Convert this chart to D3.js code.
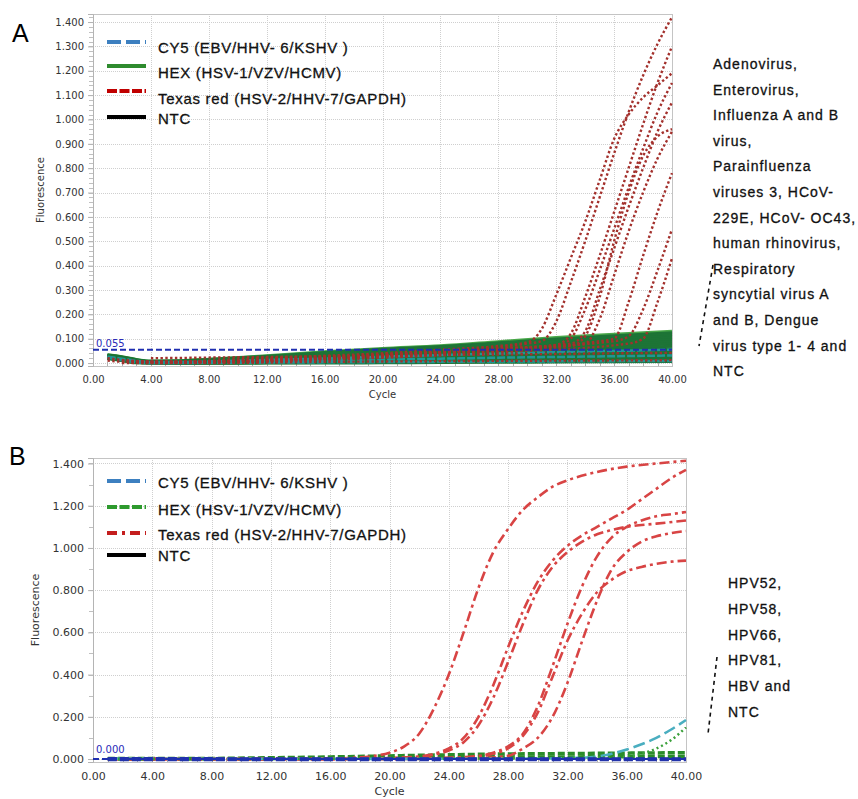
<!DOCTYPE html>
<html>
<head>
<meta charset="utf-8">
<script src="https://cdn.jsdelivr.net/npm/d3@7"></script>
<style>
  body { margin: 0; background: #fff; }
  svg { display: block; }
</style>
</head>
<body>
<div id="chart"></div>
<script>
// ===============================================================
// Data
// ===============================================================
const cycle_ticks = [0, 4, 8, 12, 16, 20, 24, 28, 32, 36, 40];
const fluor_ticks_a = [0, 0.1, 0.2, 0.3, 0.4, 0.5, 0.6, 0.7, 0.8, 0.9, 1.0, 1.1, 1.2, 1.3, 1.4];
const fluor_ticks_b = [0, 0.2, 0.4, 0.6, 0.8, 1.0, 1.2, 1.4];
const legend_labels = ['CY5 (EBV/HHV- 6/KSHV )', 'HEX (HSV-1/VZV/HCMV)', 'Texas red (HSV-2/HHV-7/GAPDH)', 'NTC'];
const notes_a = ['Adenovirus,', 'Enterovirus,', 'Influenza A and B', 'virus,', 'Parainfluenza',
  'viruses 3, HCoV-', '229E, HCoV- OC43,', 'human rhinovirus,', 'Respiratory',
  'syncytial virus A', 'and B, Dengue', 'virus type 1- 4 and', 'NTC'];
const notes_b = ['HPV52,', 'HPV58,', 'HPV66,', 'HPV81,', 'HBV and', 'NTC'];
const threshold_a = 0.055;
const threshold_b = 0.000;

// Panel A, HEX and CY5 traces sampled at these cycles
const cycles_a = [1, 2, 3, 4, 6, 8, 12, 16, 20, 24, 28, 32, 36, 40];
const hex_a = [
  [0.034, 0.026, 0.015, 0.008, 0.010, 0.016, 0.030, 0.046, 0.060, 0.071, 0.088, 0.105, 0.118, 0.131],
  [0.033, 0.025, 0.014, 0.007, 0.009, 0.015, 0.028, 0.043, 0.057, 0.068, 0.083, 0.099, 0.112, 0.124],
  [0.032, 0.024, 0.013, 0.007, 0.008, 0.013, 0.026, 0.040, 0.053, 0.064, 0.078, 0.093, 0.106, 0.117],
  [0.031, 0.022, 0.012, 0.006, 0.007, 0.012, 0.024, 0.037, 0.049, 0.060, 0.073, 0.087, 0.099, 0.110],
  [0.030, 0.021, 0.011, 0.005, 0.006, 0.011, 0.021, 0.033, 0.045, 0.055, 0.067, 0.080, 0.092, 0.103],
  [0.029, 0.020, 0.010, 0.005, 0.005, 0.009, 0.019, 0.030, 0.041, 0.051, 0.062, 0.074, 0.085, 0.095],
  [0.028, 0.019, 0.009, 0.004, 0.005, 0.008, 0.017, 0.027, 0.037, 0.046, 0.056, 0.067, 0.077, 0.087],
  [0.027, 0.018, 0.008, 0.004, 0.004, 0.007, 0.015, 0.024, 0.033, 0.041, 0.050, 0.060, 0.069, 0.078],
  [0.026, 0.017, 0.007, 0.003, 0.003, 0.006, 0.013, 0.020, 0.028, 0.036, 0.044, 0.053, 0.061, 0.069],
  [0.025, 0.016, 0.006, 0.003, 0.003, 0.005, 0.011, 0.017, 0.024, 0.031, 0.038, 0.045, 0.052, 0.059],
  [0.024, 0.015, 0.006, 0.002, 0.002, 0.004, 0.009, 0.014, 0.020, 0.026, 0.032, 0.038, 0.044, 0.050],
  [0.023, 0.014, 0.005, 0.002, 0.002, 0.003, 0.007, 0.011, 0.016, 0.021, 0.026, 0.031, 0.036, 0.041],
  [0.022, 0.013, 0.004, 0.001, 0.001, 0.002, 0.005, 0.008, 0.012, 0.016, 0.020, 0.024, 0.028, 0.032],
  [0.021, 0.012, 0.003, 0.001, 0.000, 0.001, 0.003, 0.005, 0.008, 0.011, 0.014, 0.017, 0.020, 0.023],
  [0.020, 0.011, 0.002, 0.000, 0.000, 0.000, 0.001, 0.002, 0.004, 0.006, 0.008, 0.010, 0.012, 0.014],
  [0.019, 0.010, 0.001, 0.000, -0.001, -0.001, 0.000, 0.000, 0.001, 0.002, 0.003, 0.004, 0.005, 0.006]
];
const cy5_a = [
  [0.024, 0.015, 0.006, 0.002, 0.002, 0.003, 0.006, 0.010, 0.014, 0.018, 0.022, 0.025, 0.028, 0.031],
  [0.022, 0.012, 0.003, 0.000, 0.000, 0.001, 0.002, 0.003, 0.004, 0.005, 0.006, 0.007, 0.008, 0.009],
  [0.026, 0.018, 0.009, 0.004, 0.004, 0.007, 0.013, 0.019, 0.026, 0.033, 0.039, 0.045, 0.050, 0.055]
];
// Panel A, Texas red traces as [cycle, fluorescence]
const texas_red_a = [
  [[1, 0.020], [4, 0.005], [8, 0.010], [12, 0.020], [16, 0.030], [20, 0.040], [24, 0.055], [28, 0.070], [30, 0.085], [31, 0.14], [32, 0.28], [33, 0.43], [34, 0.58], [35, 0.75], [36, 0.92], [37, 1.02], [38, 1.09], [39, 1.14], [40, 1.19]],
  [[1, 0.010], [4, 0.000], [8, 0.005], [12, 0.012], [16, 0.020], [20, 0.030], [24, 0.045], [28, 0.065], [30, 0.080], [31, 0.09], [32, 0.17], [33, 0.33], [34, 0.50], [35, 0.68], [36, 0.86], [37, 1.03], [38, 1.18], [39, 1.31], [40, 1.42]],
  [[2, 0.012], [6, 0.003], [12, 0.015], [20, 0.035], [28, 0.060], [32, 0.075], [33, 0.12], [34, 0.27], [35, 0.44], [36, 0.62], [37, 0.80], [38, 0.98], [39, 1.15], [40, 1.30]],
  [[2, 0.008], [8, 0.004], [16, 0.022], [24, 0.048], [32, 0.070], [33, 0.10], [34, 0.22], [35, 0.38], [36, 0.55], [37, 0.72], [38, 0.88], [39, 1.03], [40, 1.15]],
  [[3, 0.006], [10, 0.008], [18, 0.028], [26, 0.052], [33, 0.080], [34, 0.13], [35, 0.30], [36, 0.47], [37, 0.64], [38, 0.80], [39, 0.95], [40, 1.07]],
  [[3, 0.004], [10, 0.006], [18, 0.024], [26, 0.046], [33, 0.070], [34, 0.11], [35, 0.27], [36, 0.50], [37, 0.70], [38, 0.85], [39, 0.93], [40, 0.96]],
  [[4, 0.003], [12, 0.010], [20, 0.030], [28, 0.055], [34, 0.080], [35, 0.18], [36, 0.36], [37, 0.54], [38, 0.70], [39, 0.84], [40, 0.95]],
  [[4, 0.002], [12, 0.008], [20, 0.026], [28, 0.050], [35, 0.090], [36, 0.10], [37, 0.25], [38, 0.44], [39, 0.62], [40, 0.78]],
  [[4, 0.004], [12, 0.012], [20, 0.032], [28, 0.058], [36, 0.090], [37, 0.11], [38, 0.22], [39, 0.38], [40, 0.55]],
  [[4, 0.001], [12, 0.006], [20, 0.022], [28, 0.044], [37, 0.080], [38, 0.10], [39, 0.25], [40, 0.43]],
  [[2, 0.000], [8, 0.000], [16, 0.005], [24, 0.008], [32, 0.010], [40, 0.012]],
  [[4, 0.020], [12, 0.025], [20, 0.030], [28, 0.035], [36, 0.040], [40, 0.042]]
];

// Panel B traces as [cycle, fluorescence]
const texas_red_b = [
  [[1, 0.000], [10, 0.000], [16, 0.003], [18, 0.008], [19, 0.015], [20, 0.030], [21, 0.060], [22, 0.12], [23, 0.24], [24, 0.40], [25, 0.60], [26, 0.81], [27, 0.98], [28, 1.09], [29, 1.18], [30, 1.24], [31, 1.29], [32, 1.32], [34, 1.36], [36, 1.385], [38, 1.40], [40, 1.413]],
  [[1, 0.000], [14, 0.000], [20, 0.005], [22, 0.012], [23, 0.025], [24, 0.050], [25, 0.10], [26, 0.20], [27, 0.35], [28, 0.53], [29, 0.70], [30, 0.84], [31, 0.94], [32, 1.01], [33, 1.06], [34, 1.10], [35, 1.14], [36, 1.18], [37, 1.23], [38, 1.28], [39, 1.33], [40, 1.37]],
  [[1, 0.000], [14, 0.000], [20, 0.004], [22, 0.010], [23, 0.020], [24, 0.040], [25, 0.080], [26, 0.16], [27, 0.29], [28, 0.46], [29, 0.64], [30, 0.80], [31, 0.91], [32, 0.98], [33, 1.03], [34, 1.065], [35, 1.085], [36, 1.10], [38, 1.115], [40, 1.13]],
  [[1, 0.000], [18, 0.000], [24, 0.006], [26, 0.015], [27, 0.030], [28, 0.060], [29, 0.12], [30, 0.25], [31, 0.44], [32, 0.64], [33, 0.82], [34, 0.96], [35, 1.05], [36, 1.10], [37, 1.13], [38, 1.15], [39, 1.16], [40, 1.17]],
  [[1, 0.000], [18, 0.000], [24, 0.005], [26, 0.012], [27, 0.025], [28, 0.050], [29, 0.11], [30, 0.22], [31, 0.39], [32, 0.56], [33, 0.69], [34, 0.79], [35, 0.85], [36, 0.89], [37, 0.91], [38, 0.925], [39, 0.935], [40, 0.94]],
  [[1, 0.000], [20, 0.000], [26, 0.005], [28, 0.015], [29, 0.050], [30, 0.10], [31, 0.20], [32, 0.36], [33, 0.56], [34, 0.75], [35, 0.90], [36, 0.98], [37, 1.03], [38, 1.055], [39, 1.07], [40, 1.08]]
];
const hex_b = [
  [[1, 0.002], [8, 0.003], [12, 0.006], [16, 0.010], [20, 0.015], [24, 0.020], [28, 0.024], [32, 0.026], [36, 0.028], [40, 0.030]],
  [[1, 0.000], [12, 0.002], [20, 0.005], [28, 0.009], [36, 0.011], [40, 0.012]]
];
const hex_b_late = [
  [[1, 0.000], [30, 0.003], [35, 0.008], [36, 0.012], [37, 0.025], [38, 0.050], [39, 0.090], [40, 0.150]]
];
const cy5_b = [
  [[1, 0.002], [20, 0.001], [30, 0.002], [33, 0.006], [34, 0.012], [35, 0.025], [36, 0.045], [37, 0.070], [38, 0.100], [39, 0.140], [40, 0.185]]
];
const cy5_b_flat = [
  [[1, 0.001], [40, 0.000]],
  [[1, -0.002], [40, -0.002]]
];

// ===============================================================
// Setup
// ===============================================================
const svg = d3.select('#chart').append('svg')
  .attr('width', 858)
  .attr('height', 799)
  .style('font-family', '"Liberation Sans", Arial, sans-serif');

const to_rows = (vals) => vals.map((v, i) => [cycles_a[i], v]);

const panel_a = {
  left: 93, right: 672, top: 14, bottom: 366,
  y_domain: [-0.012, 1.433], y_ticks: fluor_ticks_a, y_minor: 0.02,
  tick_font: 10, x_pad: 10, fluor_x: 40, cycle_y: 398,
  letter: 'A', letter_x: 12, letter_y: 42,
  legend_line_y: [42, 66, 91, 117], legend_text_y: [53, 78, 104, 124],
  legend_styles: [
    {color: '#3d80c0', dash: '14,5'},
    {color: '#2e8b2e', dash: null},
    {color: '#c00000', dash: '10,2.5'},
    {color: '#000', dash: null}
  ],
  threshold: threshold_a, threshold_label_y: 347,
  notes: notes_a, notes_x: 713, notes_y: 69, notes_step: 25.6,
  bracket: [[713, 265], [699, 346]],
  series: [
    {rows: hex_a.map(to_rows), color: (d, i) => i === 0 ? '#4aa84a' : '#1d7436', width: 3, dash: null},
    {rows: cy5_a.map(to_rows), color: () => '#1f9595', width: 2.5, dash: '8,2'},
    {rows: texas_red_a, color: () => '#a3302c', width: 2.4, dash: '2.4,2.4'}
  ]
};

const panel_b = {
  left: 93, right: 686, top: 458, bottom: 762,
  y_domain: [-0.014, 1.426], y_ticks: fluor_ticks_b, y_minor: 0.1,
  tick_font: 11, x_pad: 10, fluor_x: 35, cycle_y: 795,
  letter: 'B', letter_x: 9, letter_y: 465,
  legend_line_y: [481, 507, 533, 555], legend_text_y: [488, 515, 540, 561],
  legend_styles: [
    {color: '#3d80c0', dash: '14,5'},
    {color: '#2e9a2e', dash: '10,2.5'},
    {color: '#c41e1e', dash: '10,5,3,5'},
    {color: '#000', dash: null}
  ],
  threshold: threshold_b, threshold_label_y: 753,
  notes: notes_b, notes_x: 728, notes_y: 588, notes_step: 25.8,
  bracket: [[717, 657], [708, 734]],
  series: [
    {rows: hex_b, color: () => '#2a8c2a', width: 3.5, dash: '7,3'},
    {rows: texas_red_b, color: () => '#d84444', width: 2.6, dash: '10,4,3,4'},
    {rows: cy5_b, color: () => '#4aaec0', width: 2.6, dash: '12,5'},
    {rows: hex_b_late, color: () => '#3aa03a', width: 2.5, dash: '2,3'},
    {rows: cy5_b_flat, color: () => '#2233aa', width: 3.5, dash: '9,3'}
  ]
};

draw_panel(panel_a);
draw_panel(panel_b);

// ===============================================================
// Drawing
// ===============================================================
function draw_panel(p) {
  const x = d3.scaleLinear().domain([0, 40]).range([p.left, p.right]);
  const y = d3.scaleLinear().domain(p.y_domain).range([p.bottom, p.top]);
  const g = svg.append('g');

  // grid
  const grid = g.append('g')
    .attr('stroke', '#cfcfcf')
    .attr('stroke-dasharray', '1,1');
  grid.selectAll('line.h').data(p.y_ticks).join('line')
    .attr('class', 'h')
    .attr('x1', p.left).attr('x2', p.right)
    .attr('y1', d => Math.round(y(d)) + 0.5).attr('y2', d => Math.round(y(d)) + 0.5);
  grid.selectAll('line.v').data(cycle_ticks.slice(1)).join('line')
    .attr('class', 'v')
    .attr('y1', p.top).attr('y2', p.bottom)
    .attr('x1', d => Math.round(x(d)) + 0.5).attr('x2', d => Math.round(x(d)) + 0.5);

  g.append('rect')
    .attr('x', p.left + 0.5).attr('y', p.top + 0.5)
    .attr('width', p.right - p.left).attr('height', p.bottom - p.top)
    .attr('fill', 'none').attr('stroke', '#c4c4c4');

  // y axis
  const minor = d3.range(0, p.y_domain[1], p.y_minor);
  g.append('g').selectAll('line').data(minor).join('line')
    .attr('x1', p.left - 4).attr('x2', p.left)
    .attr('y1', d => Math.round(y(d)) + 0.5).attr('y2', d => Math.round(y(d)) + 0.5)
    .attr('stroke', '#c0c0c0');

  const y_axis = g.append('g')
    .attr('transform', `translate(${p.left},0)`)
    .call(d3.axisLeft(y).tickValues(p.y_ticks).tickFormat(d3.format('.3f')).tickSize(5).tickPadding(4));
  y_axis.select('.domain').attr('stroke', '#b4b4b4');
  y_axis.selectAll('.tick line').attr('stroke', '#b4b4b4');
  y_axis.selectAll('text')
    .attr('font-family', '"DejaVu Sans", Verdana, sans-serif')
    .attr('font-size', p.tick_font)
    .attr('fill', '#333');

  // x axis
  g.append('g').selectAll('line').data(d3.range(1, 40)).join('line')
    .attr('x1', d => Math.round(x(d)) + 0.5).attr('x2', d => Math.round(x(d)) + 0.5)
    .attr('y1', p.bottom - 4).attr('y2', p.bottom)
    .attr('stroke', '#b0b0b0');

  const x_axis = g.append('g')
    .attr('transform', `translate(0,${p.bottom})`)
    .call(d3.axisBottom(x).tickValues(cycle_ticks).tickFormat(d3.format('.2f')).tickSize(0).tickPadding(p.x_pad));
  x_axis.select('.domain').remove();
  x_axis.selectAll('text')
    .attr('font-family', '"DejaVu Sans", Verdana, sans-serif')
    .attr('font-size', p.tick_font)
    .attr('fill', '#333');

  g.append('text')
    .attr('x', (p.left + p.right) / 2).attr('y', p.cycle_y)
    .attr('text-anchor', 'middle')
    .attr('font-family', '"DejaVu Sans", Verdana, sans-serif')
    .attr('font-size', p.tick_font)
    .attr('fill', '#333')
    .text('Cycle');

  g.append('text')
    .attr('transform', `translate(${p.fluor_x},${(p.top + p.bottom) / 2}) rotate(-90)`)
    .attr('text-anchor', 'middle')
    .attr('dy', '0.35em')
    .attr('font-family', '"DejaVu Sans", Verdana, sans-serif')
    .attr('font-size', p.tick_font)
    .attr('fill', '#333')
    .text('Fluorescence');

  // traces
  const line = d3.line()
    .x(d => x(d[0]))
    .y(d => y(d[1]))
    .curve(d3.curveMonotoneX);

  p.series.forEach(s => {
    g.append('g').selectAll('path').data(s.rows).join('path')
      .attr('d', line)
      .attr('fill', 'none')
      .attr('stroke', s.color)
      .attr('stroke-width', s.width)
      .attr('stroke-dasharray', s.dash);
  });

  // threshold
  g.append('line')
    .attr('x1', x(0)).attr('x2', x(40))
    .attr('y1', y(p.threshold)).attr('y2', y(p.threshold))
    .attr('stroke', '#1f2fb0')
    .attr('stroke-width', 2)
    .attr('stroke-dasharray', '6,3');
  g.append('text')
    .attr('x', x(0) + 3).attr('y', p.threshold_label_y)
    .attr('font-family', '"DejaVu Sans", Verdana, sans-serif')
    .attr('font-size', 10)
    .attr('fill', '#2a2ab8')
    .text(d3.format('.3f')(p.threshold));

  // legend
  const legend = g.append('g');
  legend_labels.forEach((label, i) => {
    const st = p.legend_styles[i];
    legend.append('line')
      .attr('x1', 107).attr('x2', 146)
      .attr('y1', p.legend_line_y[i]).attr('y2', p.legend_line_y[i])
      .attr('stroke', st.color)
      .attr('stroke-width', 4)
      .attr('stroke-dasharray', st.dash);
    legend.append('text')
      .attr('x', 158).attr('y', p.legend_text_y[i])
      .attr('font-size', 15)
      .attr('letter-spacing', 0.7)
      .attr('fill', '#111')
      .attr('stroke', '#111')
      .attr('stroke-width', 0.3)
      .text(label);
  });

  // panel letter
  g.append('text')
    .attr('x', p.letter_x).attr('y', p.letter_y)
    .attr('font-size', 25)
    .attr('fill', '#000')
    .text(p.letter);

  // side notes
  g.append('g').selectAll('text').data(p.notes).join('text')
    .attr('x', p.notes_x)
    .attr('y', (d, i) => p.notes_y + i * p.notes_step)
    .attr('font-size', 14)
    .attr('letter-spacing', 1)
    .attr('fill', '#111')
    .attr('stroke', '#111')
    .attr('stroke-width', 0.3)
    .text(d => d);

  g.append('line')
    .attr('x1', p.bracket[0][0]).attr('y1', p.bracket[0][1])
    .attr('x2', p.bracket[1][0]).attr('y2', p.bracket[1][1])
    .attr('stroke', '#111')
    .attr('stroke-width', 1.6)
    .attr('stroke-dasharray', '4,4');
}
</script>
</body>
</html>
